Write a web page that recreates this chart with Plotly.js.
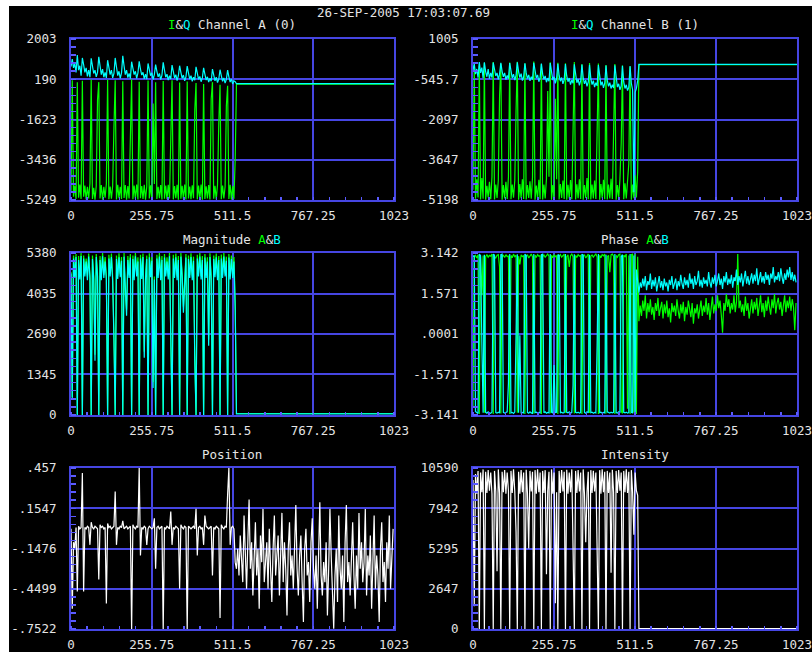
<!DOCTYPE html>
<html>
<head>
<meta charset="utf-8">
<script src="https://cdn.plot.ly/plotly-3.0.1.min.js"></script>
<style>
html,body{margin:0;padding:0;background:#ffffff;width:812px;height:652px;overflow:hidden;}
#plot{position:absolute;left:9px;top:6px;width:803px;height:646px;background:#000;}
</style>
</head>
<body>
<div id="plot"></div>
<script>
// ---------- sample positions ----------
const XP = [0,4,8,12,16,20,24,28,32,36,
40,44,48,52,56,60,64,68,72,76,
80,84,88,92,96,100,104,108,112,116,
120,124,128,132,136,140,144,148,152,156,
160,164,168,172,176,180,184,188,192,196,
200,204,208,212,216,220,224,228,232,236,
240,244,248,252,256,260,264,268,272,276,
280,284,288,292,296,300,304,308,312,316,
320,324,328,332,336,340,344,348,352,356,
360,364,368,372,376,380,384,388,392,396,
400,404,408,412,416,420,424,428,432,436,
440,444,448,452,456,460,464,468,472,476,
480,484,488,492,496,500,504,508,512,516,
520];
const XT = [524,528,532,536,540,544,548,552,556,560,
564,568,572,576,580,584,588,592,596,600,
604,608,612,616,620,624,628,632,636,640,
644,648,652,656,660,664,668,672,676,680,
684,688,692,696,700,704,708,712,716,720,
724,728,732,736,740,744,748,752,756,760,
764,768,772,776,780,784,788,792,796,800,
804,808,812,816,820,824,828,832,836,840,
844,848,852,856,860,864,868,872,876,880,
884,888,892,896,900,904,908,912,916,920,
924,928,932,936,940,944,948,952,956,960,
964,968,972,976,980,984,988,992,996,1000,
1004,1008,1012,1016,1020];
const XF = [524, 1023];

// ---------- tick labels ----------
const X_TICKS = [0, 255.75, 511.5, 767.25, 1023];
const X_LABELS = ["0", "255.75", "511.5", "767.25", "1023"];
const CHA_TICKS = [2003, 190, -1623, -3436, -5249];
const CHA_LABELS = ["2003", "190", "-1623", "-3436", "-5249"];
const CHB_TICKS = [1005, -545.75, -2096.5, -3647.25, -5198];
const CHB_LABELS = ["1005", "-545.7", "-2097", "-3647", "-5198"];
const MAG_TICKS = [5380, 4035, 2690, 1345, 0];
const MAG_LABELS = ["5380", "4035", "2690", "1345", "0"];
const PH_TICKS = [3.142, 1.57125, 0.0005, -1.57025, -3.141];
const PH_LABELS = ["3.142", "1.571", ".0001", "-1.571", "-3.141"];
const POS_TICKS = [0.457, 0.1547, -0.1476, -0.4499, -0.7522];
const POS_LABELS = [".457", ".1547", "-.1476", "-.4499", "-.7522"];
const INT_TICKS = [10590, 7942, 5295, 2647, 0];
const INT_LABELS = ["10590", "7942", "5295", "2647", "0"];

// ---------- I&Q Channel A ----------
const chA_I = [-4900,150,-5100,-4600,-5200,50,-5150,-4550,-5200,120,
-5100,-4600,-5220,-4650,-5180,-4500,180,-5200,-4700,-5230,
-4620,-740,60,-5180,-4580,-5240,-4650,-5150,-4520,170,
-5210,-4640,-5190,-4600,-2000,140,-5230,-4560,-5170,-4650,
-5200,100,-5160,-4580,-5240,-4620,-5180,-1500,190,-5210,
-4600,-5190,-4550,-5230,80,-5170,-4620,-5200,-4570,-5240,
-4640,130,-5180,-4590,-5220,-900,-4530,60,-5200,-4650,
-5170,-4580,-5230,110,-5190,-4600,-5210,-4560,-5180,-2500,
150,-5220,-4620,-5170,-4570,-5240,40,-5190,-4610,-5200,
-4550,-5230,90,-5180,-4640,-5210,-4590,-5170,-1200,20,
-5220,-4600,-5190,-4550,-5240,-20,-5200,-4630,-5180,-4580,
-5230,-700,60,-5190,-4610,-5220,-4560,-1800,-60,-5210,
-4600,-5180,-4650,-1000,-100,-5200,-4570,-5230,-4620,-5190,
-3400];
const chA_I_tail = [-30, -30];
const chA_Q = [760,1100,700,900,500,1280,600,800,350,1150,
850,500,700,320,600,280,1130,700,450,600,
300,500,1200,800,400,650,280,500,250,1050,
700,400,600,250,450,1150,750,350,550,230,
480,1250,800,400,600,260,450,220,980,650,
400,550,230,480,1000,650,380,500,210,420,
200,900,600,350,480,180,400,850,550,300,
450,170,380,950,600,280,420,150,350,200,
830,550,250,400,130,350,800,500,230,380,
120,300,780,480,200,350,100,280,150,750,
450,180,320,80,250,700,420,150,300,60,
230,100,650,380,120,280,40,200,620,350,
100,250,20,180,600,300,60,200,-20,120,
80];
const chA_Q_tail = [-10, -10];

// ---------- I&Q Channel B ----------
const chB_I = [-4800,20,-5150,-4400,-5100,-30,-5180,-4350,-5150,80,
-5190,-4650,-5100,-4500,-5170,-4300,120,-5180,-4600,-5120,
-4450,-1200,50,-5190,-4620,-5140,-4500,-5160,-4300,100,
-5170,-4600,-5110,-4450,-1800,130,-5190,-4580,-5130,-4400,
-5160,60,-5180,-4620,-5120,-4480,-5150,-4320,140,-5190,
-4640,-5130,-4420,-5170,40,-5180,-4600,-5140,-4380,-1000,
-4300,110,-5190,-4620,-5130,-1300,-4400,90,-5180,-4580,
-5120,-4450,-5160,70,-5190,-4610,-5140,-4430,-5170,-2600,
120,-5180,-4590,-5130,-4400,-5160,30,-5190,-4620,-5120,
-4350,-5170,80,-5180,-4600,-5140,-4450,-5160,-1800,60,
-5190,-4580,-5130,-4420,-5170,0,-5180,-4600,-5140,-4380,
-5160,-2200,40,-5190,-4620,-5120,-4400,-3000,-20,-5170,
-4550,-5140,-4350,-3800,-60,-5190,-4600,-5130,-4250,-5100,
-4100];
const chB_I_tail = [20, 20];
const chB_Q = [-200,50,-350,-150,-480,120,-300,-100,-500,110,
-250,-450,-150,-520,-300,-480,100,-200,-420,-300,
-550,-350,90,-250,-450,-300,-560,-400,-520,80,
-300,-500,-350,-580,-400,110,-250,-480,-330,-600,
-450,70,-300,-520,-380,-610,-450,-560,90,-320,
-500,-380,-640,-480,60,-350,-550,-420,-660,-500,
-620,80,-380,-580,-450,-700,-520,50,-400,-620,
-480,-720,-560,40,-420,-640,-500,-750,-580,-700,
30,-450,-680,-540,-780,-600,20,-480,-720,-580,
-820,-650,10,-500,-750,-600,-850,-680,-800,0,
-550,-780,-640,-880,-700,-20,-580,-820,-680,-900,
-760,-880,-10,-600,-850,-720,-950,-800,-30,-650,
-900,-760,-980,-850,-40,-700,-950,-4900,-1050,-900,
-600];
const chB_Q_tail = [30, 30];

// ---------- Magnitude A&B ----------
const magA = [4750,600,5300,4650,5350,0,5280,4600,5380,0,
5300,4700,5200,4600,5360,4650,0,5300,4620,2000,
5350,4700,0,5280,4600,5380,4650,5250,4620,0,
5320,4700,5360,4580,2700,0,5300,4620,5370,4680,
5250,0,5380,4020,3500,5280,4650,5350,0,5300,
4600,5380,4700,5240,0,5320,4620,5360,2100,4600,
5300,0,5370,4680,5250,1100,4600,0,5320,4650,
5380,4600,5280,0,5350,4700,5240,4600,5380,2800,
0,5320,4650,5360,4600,5280,0,5380,4700,3600,
4620,5350,0,5300,4650,5370,4600,5260,2000,0,
5320,4700,5380,4620,5280,0,5350,4650,5240,2500,
5370,4620,0,5300,4680,5360,4600,5280,0,5330,
4650,5380,4700,5260,0,5350,4620,5300,4650,5250,
3700];
const magA_tail = [50, 50];
const magB = [4700,500,5200,4550,5250,0,5150,4500,5280,0,
5200,4600,5100,4480,5260,4550,0,5180,4500,1800,
5250,4600,0,5150,4480,5270,4550,5100,4500,0,
5200,4600,5250,4450,2500,0,5180,4520,5240,4580,
5120,0,5260,4500,3300,5150,4550,5230,0,5180,
4480,5270,4600,5100,0,5200,4520,5250,1900,4500,
5180,0,5240,4580,5120,900,4500,0,5200,4550,
5260,4480,5150,0,5230,4600,5100,4500,5270,2600,
0,5200,4550,5240,4480,5150,0,5260,4600,3400,
4500,5230,0,5180,4550,5250,4480,5120,1800,0,
5200,4600,5260,4500,5150,0,5230,4550,5100,2300,
5250,4500,0,5180,4580,5240,4480,5150,0,5200,
4550,5260,4600,5120,0,5230,4500,5180,4550,5100,
3500];
const magB_tail = [35, 35];

// ---------- Phase A&B ----------
const phA = [-2.8,3.0,3.05,2.95,3.08,-3.1,3.0,1.5,3.05,-3.05,
3.0,3.08,2.98,3.05,3.02,3.1,-3.1,3.0,2.95,3.06,
3.08,2.6,-3.08,3.02,3.05,2.97,3.08,3.0,3.04,-3.1,
3.05,2.96,3.1,3.0,3.06,-3.05,3.02,2.7,3.07,3.0,
3.05,-3.1,3.0,3.08,2.95,3.04,3.1,3.0,-3.08,3.06,
2.97,3.08,3.02,3.05,-3.1,3.0,3.07,2.98,3.05,3.1,
3.02,-3.07,3.06,2.96,3.08,3.0,3.05,-3.1,3.02,3.08,
2.98,3.05,3.1,-3.05,3.0,3.07,2.6,3.04,3.1,3.0,
-3.08,3.05,2.97,3.08,3.02,3.06,-3.1,3.0,3.08,2.95,
3.05,3.1,-3.06,3.02,3.07,2.98,3.05,3.1,3.0,-3.1,
3.06,2.96,3.08,3.03,3.1,-3.08,3.0,3.05,2.4,3.07,
3.1,3.02,-3.1,3.05,2.98,3.08,3.1,-3.0,-3.08,3.06,
3.0,3.1,-2.9,3.05,-3.1,3.08,3.1,-3.05,3.1,-3.1,
3.0];
const phA_tail = [0.5,1.1,0.7,1.3,0.9,1.5,0.6,1.2,0.85,1.35,
0.75,1.05,0.55,1.2,0.9,1.4,0.7,1.0,1.25,0.6,
1.15,0.8,1.3,0.65,1.0,0.45,1.2,0.85,1.1,0.7,
1.35,0.9,0.6,1.15,0.8,1.25,0.5,1.05,0.75,1.3,
0.95,0.65,1.2,0.4,1.0,0.8,1.15,0.6,0.95,1.3,
0.7,1.1,0.85,1.4,0.75,1.2,0.55,1.0,1.45,0.8,
1.15,0.9,1.5,1.0,1.3,0.75,0.05,1.2,0.9,1.55,
1.05,1.35,0.8,1.2,0.95,1.5,0.85,1.25,3.1,1.0,
1.3,0.85,1.15,0.7,1.45,0.9,1.2,0.6,1.05,1.35,
0.8,1.25,0.95,1.4,0.7,1.1,1.5,0.85,1.2,0.65,
1.3,0.9,1.45,1.05,0.75,1.35,1.0,1.55,0.8,1.2,
1.4,0.95,1.25,0.7,1.15,1.5,0.85,1.3,1.0,1.45,
0.9,1.35,1.05,0.15,1.2];
const phB = [3.0,3.05,-3.0,-3.05,-3.08,3.1,3.05,-0.3,-3.05,3.08,
-3.04,-3.07,-3.02,-3.06,-3.08,-3.03,3.1,3.06,-3.05,-3.07,
-3.03,-3.06,3.08,3.1,-3.04,-3.07,-3.05,-3.02,-1.9,3.1,
-3.06,-3.04,-3.08,-3.03,-0.05,3.09,-3.05,-0.05,-3.07,-3.04,
-3.06,3.1,3.05,-3.04,-3.07,-3.02,-3.06,-3.08,3.1,-3.05,
-3.03,-3.07,-3.04,-3.06,3.08,3.1,-3.05,-3.02,-3.07,-3.04,
-3.06,3.1,-3.03,-3.07,-1.2,-3.05,-3.04,3.08,3.05,-3.06,
-3.03,-3.07,-3.05,3.1,-3.04,-3.06,-3.02,-3.07,-3.05,-2.0,
3.09,-3.04,-3.06,-3.03,-3.07,-3.05,3.1,3.06,-3.04,-3.07,
-3.02,-3.06,3.08,-3.05,-3.03,-3.07,-3.04,-3.06,-0.4,3.1,
-3.05,-3.03,-3.07,-3.04,-3.06,3.08,-3.02,-3.05,-3.07,-3.03,
-3.06,-3.04,3.1,-3.05,-3.07,-3.02,-3.06,3.0,3.08,-3.04,
-3.06,-3.03,-3.07,-3.05,3.1,-3.04,-3.06,3.05,-3.05,2.5,
2.0];
const phB_tail = [1.6,2.0,1.8,2.15,1.85,2.25,1.7,2.05,1.9,2.35,
1.75,2.1,1.85,2.2,1.65,1.95,2.25,1.8,2.05,1.7,
2.15,1.85,2.0,1.65,2.1,1.9,2.25,1.75,1.95,2.15,
1.7,2.05,1.85,2.3,1.95,1.75,2.2,1.9,2.1,1.8,
2.35,1.95,2.15,1.75,2.25,1.9,2.05,2.45,1.85,2.1,
1.8,2.2,1.95,2.1,1.85,2.4,2.0,1.8,2.2,1.95,
2.3,1.85,2.05,2.35,1.9,2.15,1.75,2.25,2.0,2.4,
1.9,2.15,1.95,2.3,1.8,2.2,2.05,2.5,1.9,2.25,
2.0,2.35,1.85,2.15,2.45,1.95,2.25,1.9,2.1,2.35,
1.95,2.3,2.05,2.55,1.9,2.2,2.4,2.0,2.25,1.95,
2.4,2.1,2.3,1.9,2.35,2.15,2.6,2.0,2.25,2.1,
2.4,2.05,2.55,2.2,1.95,2.35,2.1,2.5,2.2,2.6,
2.1,2.4,2.05,2.3,2.0];

// ---------- Position ----------
const pos = [0.0,-0.6,-0.1,-0.15,0.01,-0.47,0.02,0.0,0.01,0.42,
-0.47,0.01,0.0,0.02,0.01,-0.12,0.05,0.01,0.0,0.02,
0.01,0.0,-0.38,0.03,0.01,0.02,0.0,0.01,-0.56,0.04,
0.01,0.02,0.0,0.01,0.02,0.28,-0.12,0.01,0.0,0.02,
0.01,0.06,0.0,0.01,0.02,0.0,0.01,0.02,-0.76,0.03,
0.01,0.0,0.02,0.01,0.457,-0.2,0.01,0.0,0.02,0.01,
-0.12,0.0,0.02,0.01,0.0,0.01,0.08,-0.3,0.01,0.02,
0.0,0.01,0.02,-0.76,0.01,0.0,0.02,0.01,0.0,0.13,
-0.12,0.01,0.0,0.02,0.01,0.0,-0.45,0.03,0.01,0.0,
0.02,0.01,-0.76,0.02,0.01,0.0,0.01,0.02,0.0,0.15,
-0.2,0.01,0.02,0.0,0.01,-0.12,0.1,0.02,0.01,0.0,
0.01,0.02,-0.35,0.01,0.0,0.02,0.01,0.0,-0.67,0.03,
0.01,0.0,0.02,0.01,0.26,0.457,-0.12,0.01,0.02,0.0,
-0.25];
const pos_tail = [-0.3,-0.15,-0.35,-0.05,-0.28,-0.4,0.1,-0.2,-0.45,-0.1,
0.22,-0.3,-0.1,-0.5,-0.2,0.05,-0.35,-0.15,-0.6,-0.05,
-0.25,0.15,-0.4,-0.2,-0.1,-0.45,0.0,-0.3,-0.55,-0.15,
0.1,-0.35,-0.2,-0.05,-0.5,-0.25,0.12,-0.4,-0.1,-0.3,
-0.65,-0.15,0.05,-0.35,-0.2,-0.45,-0.1,0.18,-0.3,-0.5,
-0.2,-0.05,-0.4,-0.7,-0.15,0.0,-0.35,-0.25,-0.55,-0.1,
0.08,-0.3,-0.45,-0.2,-0.6,-0.15,0.2,-0.35,-0.5,-0.25,
-0.4,-0.1,-0.65,-0.3,0.15,-0.2,-0.5,-0.75,-0.35,-0.15,
-0.55,0.1,-0.3,-0.45,-0.2,-0.7,-0.1,0.18,-0.4,-0.25,
-0.5,-0.15,0.05,-0.35,-0.6,-0.2,-0.45,0.12,-0.3,-0.1,
-0.4,-0.25,0.15,-0.5,-0.2,-0.35,-0.05,-0.6,-0.3,0.1,
-0.45,-0.2,-0.35,-0.7,-0.15,0.05,-0.4,-0.25,-0.55,-0.1,
-0.3,0.1,-0.45,-0.2,0.0];

// ---------- Intensity ----------
const inten = [9800,1500,10200,8900,10400,0,10300,9000,10500,0,
10350,8950,10450,9100,10300,8900,0,10400,9050,3800,
10500,8950,0,10350,9000,10450,8900,10300,9100,0,
10400,8950,10500,9050,6400,0,10350,8900,10450,9000,
10300,0,10480,8950,5300,10400,9050,10350,0,10450,
8900,10500,9000,10300,0,10400,8950,10450,3600,9100,
10350,0,10500,8900,10300,1700,9000,0,10400,8950,
10450,9050,10350,0,10480,8900,10300,9000,10500,6300,
0,10400,8950,10450,9050,10300,0,10500,8900,5700,
9000,10350,0,10450,8950,10400,9050,10300,3100,0,
10450,8900,10500,9000,10350,0,10400,8950,10300,3700,
10480,9000,0,10400,8950,10450,9100,10300,0,10400,
9000,10500,8950,10350,0,10450,9000,6200,10300,9100,
8800];
const inten_tail = [20, 20];

// ---------- styling ----------
const GREEN = "#00ff00", CYAN = "#00ffff", WHITE = "#ffffff";
const GRID = "#4646e2";
const TXT = "#e4e4e4";
const FONT = "DejaVu Sans Mono, Liberation Mono, monospace";

function tr(x, y, color, xa, ya) {
  return {x: x, y: y, type: "scatter", mode: "lines", xaxis: xa, yaxis: ya,
          line: {color: color, width: 1.2}, hoverinfo: "skip", showlegend: false};
}
const data = [
  tr(XP.concat(XF), chA_I.concat(chA_I_tail), GREEN, "x", "y"),
  tr(XP.concat(XF), chA_Q.concat(chA_Q_tail), CYAN, "x", "y"),
  tr(XP.concat(XF), chB_I.concat(chB_I_tail), GREEN, "x2", "y2"),
  tr(XP.concat(XF), chB_Q.concat(chB_Q_tail), CYAN, "x2", "y2"),
  tr(XP.concat(XF), magA.concat(magA_tail), GREEN, "x3", "y3"),
  tr(XP.concat(XF), magB.concat(magB_tail), CYAN, "x3", "y3"),
  tr(XP.concat(XT), phA.concat(phA_tail), GREEN, "x4", "y4"),
  tr(XP.concat(XT), phB.concat(phB_tail), CYAN, "x4", "y4"),
  tr(XP.concat(XT), pos.concat(pos_tail), WHITE, "x5", "y5"),
  tr(XP.concat(XF), inten.concat(inten_tail), WHITE, "x6", "y6")
];

const COLS = [[0.0772, 0.4795], [0.5778, 0.9813]];
const ROWS = [[0.6997, 0.9489], [0.3669, 0.6176], [0.0356, 0.2848]];

function xax(col, anchor) {
  return {domain: COLS[col], anchor: anchor, range: [0, 1023],
    tickmode: "array", tickvals: X_TICKS, ticktext: X_LABELS,
    showgrid: true, gridcolor: GRID, gridwidth: 2, zeroline: false,
    showline: true, linecolor: GRID, linewidth: 2, mirror: true,
    ticks: "", ticklabelstandoff: 3, ticklabeloverflow: "allow",
    tickfont: {family: FONT, size: 12.5, color: TXT},
    minor: {ticks: "inside", ticklen: 3, tickcolor: "#5a5aff", tickwidth: 1.5,
            tickmode: "linear", tick0: 0, dtick: 1023 / 20, showgrid: false},
    fixedrange: true};
}
function yax(row, col, anchor, ticks, labels) {
  const lo = ticks[ticks.length - 1], hi = ticks[0];
  return {domain: ROWS[row], anchor: anchor, range: [lo, hi],
    tickmode: "array", tickvals: ticks, ticktext: labels,
    showgrid: true, gridcolor: GRID, gridwidth: 2, zeroline: false,
    showline: true, linecolor: GRID, linewidth: 2, mirror: true,
    ticks: "", ticklabelstandoff: 10, ticklabeloverflow: "allow",
    tickfont: {family: FONT, size: 12.5, color: TXT},
    minor: {ticks: "inside", ticklen: 5, tickcolor: "#5a5aff", tickwidth: 1.5,
            tickmode: "linear", tick0: lo, dtick: (hi - lo) / 20, showgrid: false},
    fixedrange: true};
}

function ann(x, y, text) {
  return {xref: "paper", yref: "paper", x: x, y: y, text: text, showarrow: false,
          xanchor: "center", yanchor: "middle",
          font: {family: FONT, size: 12.5, color: TXT}};
}
const g = s => '<span style="color:' + GREEN + '">' + s + '</span>';
const c = s => '<span style="color:' + CYAN + '">' + s + '</span>';

const layout = {
  width: 803, height: 646,
  margin: {l: 0, r: 0, t: 0, b: 0},
  paper_bgcolor: "#000000", plot_bgcolor: "#000000",
  showlegend: false,
  xaxis: xax(0, "y"), yaxis: yax(0, 0, "x", CHA_TICKS, CHA_LABELS),
  xaxis2: xax(1, "y2"), yaxis2: yax(0, 1, "x2", CHB_TICKS, CHB_LABELS),
  xaxis3: xax(0, "y3"), yaxis3: yax(1, 0, "x3", MAG_TICKS, MAG_LABELS),
  xaxis4: xax(1, "y4"), yaxis4: yax(1, 1, "x4", PH_TICKS, PH_LABELS),
  xaxis5: xax(0, "y5"), yaxis5: yax(2, 0, "x5", POS_TICKS, POS_LABELS),
  xaxis6: xax(1, "y6"), yaxis6: yax(2, 1, "x6", INT_TICKS, INT_LABELS),
  annotations: [
    ann(0.4907, 0.990, "26-SEP-2005 17:03:07.69"),
    ann(0.2783, 0.9706, g("I") + "&amp;" + c("Q") + " Channel A (0)"),
    ann(0.7795, 0.9706, g("I") + "&amp;" + c("Q") + " Channel B (1)"),
    ann(0.2783, 0.6378, "Magnitude " + g("A") + "&amp;" + c("B")),
    ann(0.7795, 0.6378, "Phase " + g("A") + "&amp;" + c("B")),
    ann(0.2783, 0.3065, "Position"),
    ann(0.7795, 0.3065, "Intensity")
  ]
};

Plotly.newPlot("plot", data, layout, {staticPlot: true, displayModeBar: false});
</script>
</body>
</html>
